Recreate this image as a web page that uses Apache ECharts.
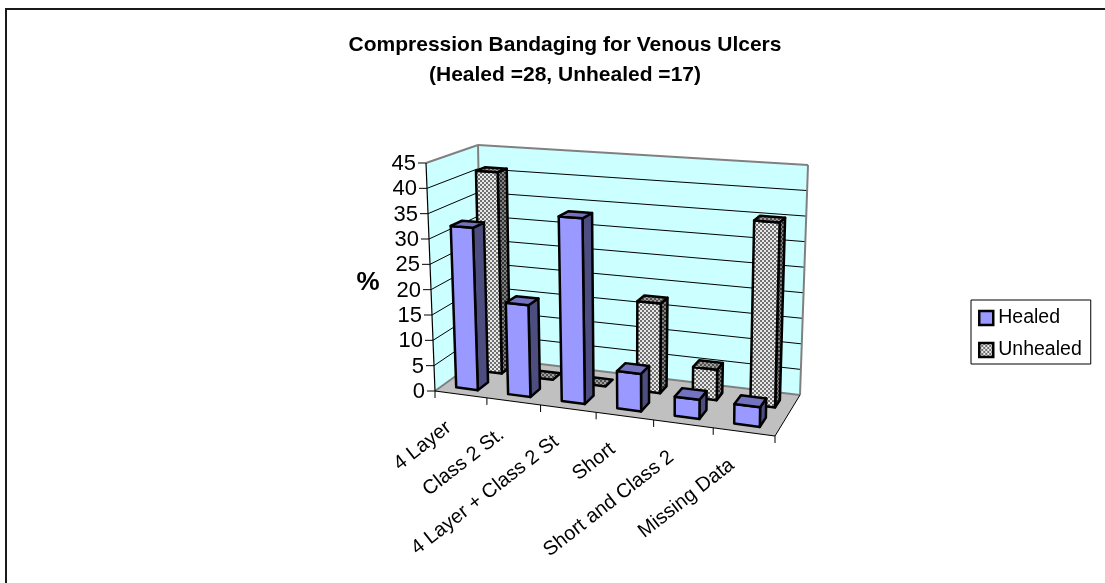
<!DOCTYPE html>
<html>
<head>
<meta charset="utf-8">
<style>html,body{margin:0;padding:0;background:#fff}#chart{width:1105px;height:583px}</style>
<script src="https://cdn.jsdelivr.net/npm/echarts@6/dist/echarts.min.js"></script>
</head>
<body>
<div id="chart"></div>
<script>
const categories = ['4 Layer', 'Class 2 St.', '4 Layer + Class 2 St', 'Short', 'Short and Class 2', 'Missing Data'];
const healed = [32.1, 17.9, 35.7, 7.1, 3.6, 3.6];
const unhealed = [41.2, 0, 0, 17.6, 5.9, 35.3];
const yTicks = [0, 5, 10, 15, 20, 25, 30, 35, 40, 45];

// Corners of the 3D plot box on screen
const floorQuad = [[435, 391], [775, 436], [800, 395], [482, 357]];
const ceilFrontLeft = [426, 163], ceilBackLeft = [478, 145], ceilBackRight = [808, 165];

// Floor plane: unit square to quadrilateral perspective mapping
const persp = (function (q) {
  const [p0, p1, p2, p3] = q;
  const dx1 = p1[0] - p2[0], dx2 = p3[0] - p2[0], sx = p0[0] - p1[0] + p2[0] - p3[0];
  const dy1 = p1[1] - p2[1], dy2 = p3[1] - p2[1], sy = p0[1] - p1[1] + p2[1] - p3[1];
  const den = dx1 * dy2 - dx2 * dy1;
  return { g: (sx * dy2 - dx2 * sy) / den, h: (dx1 * sy - sx * dy1) / den };
})(floorQuad);

// Plane through three corners that shares the floor's vanishing behaviour
function planeMap(c00, c11, c01) {
  const { g, h } = persp;
  const axis = i => {
    const c = c00[i];
    const b = c01[i] * (1 + h) - c;
    const a = c11[i] * (1 + g + h) - b - c;
    return [a, b, c];
  };
  const X = axis(0), Y = axis(1);
  return (u, w) => {
    const k = g * u + h * w + 1;
    return [(X[0] * u + X[1] * w + X[2]) / k, (Y[0] * u + Y[1] * w + Y[2]) / k];
  };
}
const floorMap = planeMap(floorQuad[0], floorQuad[2], floorQuad[3]);
const ceilMap = planeMap(ceilFrontLeft, ceilBackRight, ceilBackLeft);

// u: along categories, v: height fraction, w: depth, all 0..1
function project(u, v, w) {
  const p = floorMap(u, w), q = ceilMap(u, w);
  return [p[0] + (q[0] - p[0]) * v, p[1] + (q[1] - p[1]) * v];
}

function checkerCanvas(light, dark) {
  const cv = document.createElement('canvas');
  cv.width = 4; cv.height = 4;
  const ctx = cv.getContext('2d');
  ctx.fillStyle = light; ctx.fillRect(0, 0, 4, 4);
  ctx.fillStyle = dark;
  ctx.fillRect(0, 0, 2, 2); ctx.fillRect(2, 2, 2, 2);
  return cv;
}
const patFront = { image: checkerCanvas('#e8e8e8', '#707070'), repeat: 'repeat' };
const patSide = { image: checkerCanvas('#808080', '#303030'), repeat: 'repeat' };
const patTop = { image: checkerCanvas('#a0a0a0', '#505050'), repeat: 'repeat' };

function fractions(api, params, cat, val) {
  const cs = params.coordSys;
  const pt = api.coord([cat, val]);
  return { u: (pt[0] - cs.x) / cs.width, v: (cs.y + cs.height - pt[1]) / cs.height, bw: api.size([1, 0])[0] / cs.width };
}

function boxRenderer(w0, w1, off0, off1, fills) {
  return function (params, api) {
    const f = fractions(api, params, api.value(0), api.value(1));
    const u0 = f.u + f.bw * off0, u1 = f.u + f.bw * off1;
    const poly = (pts, fill) => ({
      type: 'polygon',
      shape: { points: pts },
      style: { fill, stroke: '#000', lineWidth: 2.5, lineJoin: 'round' }
    });
    const children = [];
    if (f.v > 0) {
      children.push(poly([project(u1, 0, w0), project(u1, 0, w1), project(u1, f.v, w1), project(u1, f.v, w0)], fills.side));
      children.push(poly([project(u0, 0, w0), project(u1, 0, w0), project(u1, f.v, w0), project(u0, f.v, w0)], fills.front));
    }
    children.push(poly([project(u0, f.v, w0), project(u1, f.v, w0), project(u1, f.v, w1), project(u0, f.v, w1)], fills.top));
    return { type: 'group', silent: true, children };
  };
}

// Walls, floor, gridlines and the labels along the slanted axes
function renderFrame(params, api) {
  const cs = params.coordSys;
  const wallEdge = '#808080';
  const kids = [];
  const poly = (pts, fill) => ({ type: 'polygon', shape: { points: pts }, style: { fill, stroke: null } });
  const line = (a, b, color, lw) => ({
    type: 'line',
    shape: { x1: a[0], y1: a[1], x2: b[0], y2: b[1] },
    style: { stroke: color, lineWidth: lw }
  });
  kids.push(poly([project(0, 0, 0), project(0, 1, 0), project(0, 1, 1), project(0, 0, 1)], '#ccffff'));
  kids.push(poly([project(0, 0, 1), project(0, 1, 1), project(1, 1, 1), project(1, 0, 1)], '#ccffff'));
  kids.push(poly([project(0, 0, 0), project(0, 0, 1), project(1, 0, 1), project(1, 0, 0)], '#c0c0c0'));

  yTicks.forEach(t => {
    const v = (cs.y + cs.height - api.coord([0, t])[1]) / cs.height;
    const a = project(0, v, 0), b = project(0, v, 1), c = project(1, v, 1);
    if (t > 0 && t < 45) {
      kids.push(line(a, b, '#000', 1));
      kids.push(line(b, c, '#000', 1));
    }
    kids.push(line([a[0] - 8, a[1]], a, '#000', 1));
    kids.push({
      type: 'text', x: a[0] - 10, y: a[1] + 1,
      style: { text: String(t), fill: '#000', font: '22px "Liberation Sans", Arial, sans-serif', align: 'right', verticalAlign: 'middle' }
    });
  });
  // wall outlines
  kids.push(line(project(0, 1, 0), project(0, 1, 1), wallEdge, 2));
  kids.push(line(project(0, 1, 1), project(1, 1, 1), wallEdge, 2));
  kids.push(line(project(1, 1, 1), project(1, 0, 1), wallEdge, 2));
  kids.push(line(project(0, 0, 1), project(0, 1, 1), wallEdge, 2));
  kids.push(line(project(0, 0, 1), project(1, 0, 1), wallEdge, 2));
  kids.push(line(project(0, 0, 0), project(0, 0, 1), wallEdge, 2));
  // axes
  kids.push(line(project(0, 0, 0), project(0, 1, 0), '#000', 1.2));
  kids.push(line(project(0, 0, 0), project(1, 0, 0), '#000', 1.2));
  kids.push(line(project(1, 0, 0), project(1, 0, 1), '#000', 1));
  for (let i = 0; i <= categories.length; i++) {
    const p = project(i / categories.length, 0, 0);
    kids.push(line(p, [p[0], p[1] + 7], '#000', 1));
  }
  categories.forEach((name, i) => {
    const pt = api.coord([i, 0]);
    const p = project((pt[0] - cs.x) / cs.width, 0, 0);
    kids.push({
      type: 'text', x: p[0] - 18, y: p[1] + 23, rotation: 38 * Math.PI / 180,
      style: { text: name, fill: '#000', font: '20px "Liberation Sans", Arial, sans-serif', align: 'right', verticalAlign: 'top' }
    });
  });
  return { type: 'group', silent: true, children: kids };
}

const chart = echarts.init(document.getElementById('chart'), null, { renderer: 'canvas' });
chart.setOption({
  animation: false,
  backgroundColor: '#fff',
  title: {
    text: 'Compression Bandaging for Venous Ulcers\n(Healed =28, Unhealed =17)',
    left: 560, top: 25, textAlign: 'center',
    textStyle: { fontFamily: '"Liberation Sans", Arial, sans-serif', fontSize: 21, fontWeight: 'bold', color: '#000', lineHeight: 30 }
  },
  legend: {
    data: ['Healed', 'Unhealed'], orient: 'vertical', left: 971, top: 300,
    padding: [8, 9, 4, 7], itemWidth: 14, itemHeight: 14, itemGap: 12, itemStyle: { borderWidth: 2.5 },
    icon: 'rect', borderColor: '#000', borderWidth: 1, backgroundColor: '#fff',
    textStyle: { fontFamily: '"Liberation Sans", Arial, sans-serif', fontSize: 19.5, color: '#000' },
    selectedMode: false
  },
  grid: { left: 435, top: 163, width: 340, height: 228 },
  xAxis: { type: 'category', data: categories, show: false },
  yAxis: { type: 'value', min: 0, max: 45, interval: 5, show: false },
  graphic: [
    { type: 'polyline', shape: { points: [[6, 583], [6, 9], [1105, 9]] }, style: { fill: null, stroke: '#1a1a1a', lineWidth: 2 }, silent: true },
    { type: 'text', x: 368, y: 283, style: { text: '%', font: 'bold 26px "Liberation Sans", Arial, sans-serif', fill: '#000', align: 'center', verticalAlign: 'middle' }, silent: true }
  ],
  series: [
    { name: 'frame', type: 'custom', z: 1, data: [[0, 0]], renderItem: renderFrame, silent: true, clip: false },
    {
      name: 'Healed', type: 'custom', z: 3, clip: false,
      data: healed.map((v, i) => [i, v]),
      itemStyle: { color: '#9999ff', borderColor: '#000', borderWidth: 2 },
      renderItem: boxRenderer(0.15, 0.37, -0.23, 0.19, { front: '#9999ff', side: '#4d4d80', top: '#7373bf' })
    },
    {
      name: 'Unhealed', type: 'custom', z: 2, clip: false,
      data: unhealed.map((v, i) => [i, v]),
      itemStyle: { color: patFront, borderColor: '#000', borderWidth: 2 },
      renderItem: boxRenderer(0.63, 0.82, -0.19, 0.23, { front: patFront, side: patSide, top: patTop })
    }
  ]
});
</script>
</body>
</html>
